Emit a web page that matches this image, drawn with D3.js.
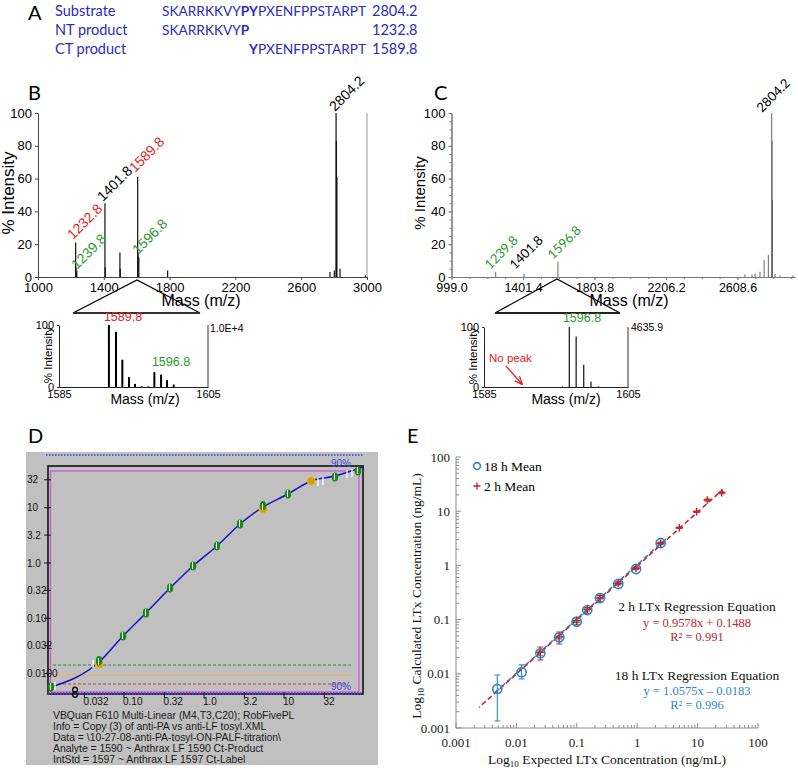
<!DOCTYPE html>
<html>
<head>
<meta charset="utf-8">
<script src="https://cdn.jsdelivr.net/npm/d3@7"></script>
<style>
  body { margin: 0; background: #fff; }
  svg { display: block; }
</style>
</head>
<body>
<svg id="fig" width="798" height="768"></svg>
<script>
'use strict';

/* ---- data ---- */

// A: peptide substrate and cleavage products
var seqNames = ['Substrate', 'NT product', 'CT product'];
var seqParts = [
  [['SKARRKKVY', false], ['PY', true], ['PXENFPPSTARPT', false]],
  [['SKARRKKVY', false], ['P', true]],
  [['Y', true], ['PXENFPPSTARPT', false]]
];
var seqMasses = ['2804.2', '1232.8', '1589.8'];

// B: full MALDI spectrum (mass, % intensity)
var bMass = [1229, 1231, 1236, 1407, 1409, 1498, 1500, 1606, 1608, 1613, 1788, 2775, 2801, 2812, 2814, 2817, 2836, 2990];
var bInt  = [21, 6, 4, 45, 6, 15, 5, 61, 15, 12, 4, 3, 4, 100, 83, 61, 5, 1];
var bLabelText = ['1232.8', '1239.8', '1401.8', '1589.8', '1596.8', '2804.2'];
var bLabelKind = ['nt', 'label', 'sub', 'ct', 'label', 'sub'];
var bLabelMass = [1213, 1237, 1395, 1590, 1608, 2805];
var bLabelInt  = [22.6, 4.3, 45.7, 63.4, 13.4, 100.6];
var bTicks = [1000, 1400, 1800, 2200, 2600, 3000];

// B inset: zoom 1585-1605
var biMass = [1591.7, 1592.65, 1593.5, 1594.4, 1595.2, 1596.1, 1597.0, 1597.8, 1598.7, 1599.5, 1600.4];
var biInt  = [100, 89, 44, 16, 5, 1, 1, 24, 20, 11, 4];

// C: control spectrum
var cMass = [1247.6, 1407, 1598, 2650, 2690, 2707, 2735, 2758, 2782, 2801, 2803, 2805, 2820, 2848, 2921];
var cInt  = [3, 2, 9.3, 1.5, 1.5, 2, 3.2, 10.4, 13.4, 100, 83, 47, 2, 1, 1];
var cLabelText = ['1239.8', '1401.8', '1596.8', '2804.2'];
var cLabelKind = ['label', 'sub', 'label', 'sub'];
var cLabelMass = [1216, 1356, 1570, 2746];
var cLabelInt  = [4.3, 4.3, 10.4, 100];
var cTicks = [999.0, 1401.4, 1803.8, 2206.2, 2608.6];

// C inset
var ciMass = [1595.9, 1596.85, 1597.8, 1598.85, 1599.86, 1600.9];
var ciInt  = [1, 100, 84, 37, 9, 1];

// D: VBQuan calibration (expected vs measured ratio)
var dXTicks = [0.032, 0.10, 0.32, 1.0, 3.2, 10, 32];
var dXLabels = ['0.032', '0.10', '0.32', '1.0', '3.2', '10', '32'];
var dYTicks = [32, 10, 3.2, 1.0, 0.32, 0.10, 0.032, 0.010];
var dYLabels = ['32', '10', '3.2', '1.0', '0.32', '0.10', '0.032', '0.0100'];
var dPtX = [0.0122, 0.0487, 0.0972, 0.188, 0.376, 0.729, 1.45, 2.82, 5.46, 11.2, 21.8, 43.4, 84.1];
var dPtY = [0.0057, 0.0162, 0.0479, 0.125, 0.353, 0.883, 2.03, 5.07, 10.3, 17.7, 30.4, 35.9, 46.1];
var dPtKind = ['g', 'go', 'g', 'g', 'g', 'g', 'g', 'g', 'go', 'g', 'o', 'g', 'g'];
var dRepX = [0.0137, 0.041, 26.6, 30.7, 61.3, 70.8];
var dRepY = [0.00597, 0.0149, 29.2, 30.4, 40.7, 42.4];
var dOutX = [0.0244];
var dOutY = [0.0046];
var dFitX = [0.0122, 0.0487, 0.0972, 0.188, 0.376, 0.729, 1.45, 2.82, 5.46, 11.2, 21.8, 43.4, 97];
var dFitY = [0.0057, 0.0162, 0.0479, 0.125, 0.353, 0.883, 2.03, 5.07, 10.3, 17.7, 30.4, 37.5, 54.5];
var dNotes = [
  'VBQuan F610 Multi-Linear (M4,T3,C20); RobFivePL',
  'Info = Copy (3) of anti-PA vs anti-LF tosyl.XML',
  'Data = \\10-27-08-anti-PA-tosyl-ON-PALF-titration\\',
  'Analyte = 1590 ~ Anthrax LF 1590 Ct-Product',
  'IntStd = 1597 ~ Anthrax LF 1597 Ct-Label'
];

// E: expected vs calculated LTx (ng/mL)
var eX18  = [0.00483, 0.0122, 0.0249, 0.0513, 0.0995, 0.149, 0.242, 0.486, 0.955, 2.45];
var eY18  = [0.00525, 0.0107, 0.0239, 0.0471, 0.0915, 0.150, 0.250, 0.454, 0.859, 2.59];
var eLo18 = [0.00135, 0.0080, 0.0215, 0.0440, 0.088, 0.145, 0.240, 0.440, 0.840, 2.50];
var eHi18 = [0.0095, 0.0146, 0.0265, 0.0500, 0.095, 0.155, 0.260, 0.470, 0.880, 2.70];
var eX2  = [0.0249, 0.0513, 0.0995, 0.149, 0.242, 0.486, 0.955, 2.45, 4.98, 9.66, 14.5, 25.1];
var eY2  = [0.0250, 0.0480, 0.0950, 0.155, 0.250, 0.470, 0.890, 2.55, 4.96, 9.79, 16.1, 21.9];
var eLo2 = [0.0180, 0.0354, 0.0800, 0.131, 0.210, 0.440, 0.850, 2.45, 4.80, 9.50, 15.5, 21.0];
var eHi2 = [0.0313, 0.0589, 0.1070, 0.167, 0.280, 0.500, 0.930, 2.65, 5.10, 10.1, 16.7, 22.8];
var eFit2X = [0.0024, 26];
var eFit2Y = [0.0024, 25];
var eFit18X = [0.0045, 3.0];
var eFit18Y = [0.0046, 3.1];
var eTicks = [0.001, 0.01, 0.1, 1, 10, 100];
var eTickLabels = ['0.001', '0.01', '0.1', '1', '10', '100'];

/* ---- drawing ---- */

var SANS = '"Liberation Sans", Arial, sans-serif';
var SERIF = '"Liberation Serif", "Times New Roman", serif';
var HUMAN = 'Lato, "Open Sans", sans-serif';
var BLUE_A = '#2b2bc2';
var RED = '#e2231a', GREEN = '#2c9a2c';
var kindColor = { nt: RED, ct: RED, label: GREEN, sub: '#000' };

var svg = d3.select('#fig');
svg.append('rect').attr('width', 798).attr('height', 768).attr('fill', '#fff');

function letter(x, y, t) {
  svg.append('text').attr('x', x).attr('y', y).text(t)
    .style('font-family', HUMAN).style('font-size', '20px').attr('fill', '#000');
}

function styleAxis(g, color, size) {
  g.select('.domain').attr('stroke', color);
  g.selectAll('.tick line').attr('stroke', color);
  g.selectAll('.tick text').attr('fill', '#000')
    .style('font-family', SANS).style('font-size', size + 'px');
}

function vLabel(x, y, t, size) {
  svg.append('text').attr('transform', 'translate(' + x + ',' + y + ') rotate(-90)')
    .attr('text-anchor', 'middle').text(t)
    .style('font-family', SANS).style('font-size', size + 'px');
}

function peaks(g, x, y, mass, inten, color, w) {
  g.selectAll(null).data(d3.range(mass.length)).enter().append('line')
    .attr('x1', function(i){ return x(mass[i]) }).attr('x2', function(i){ return x(mass[i]) })
    .attr('y1', y(0)).attr('y2', function(i){ return y(inten[i]) })
    .attr('stroke', color).attr('stroke-width', w);
}

function peakLabels(g, x, y, text, kind, mass, inten, size, font) {
  g.selectAll(null).data(d3.range(text.length)).enter().append('text')
    .attr('transform', function(i){
      return 'translate(' + x(mass[i]) + ',' + y(inten[i]) + ') rotate(-45)'
    })
    .text(function(i){ return text[i] })
    .attr('fill', function(i){ return kindColor[kind[i]] })
    .style('font-family', font).style('font-size', size + 'px');
}

// ---- A ----
letter(28, 20, 'A');
var rowY = d3.scalePoint().domain(seqNames).range([16, 54]);
var gA = svg.append('g').attr('fill', BLUE_A)
  .style('font-family', HUMAN).style('font-size', '14.5px');
gA.selectAll('.nm').data(seqNames).enter().append('text')
  .attr('x', 55).attr('y', function(d){ return rowY(d) }).text(function(d){ return d });
var seqText = gA.selectAll('.sq').data(seqParts).enter().append('text')
  .attr('x', 162).attr('y', function(d, i){ return rowY(seqNames[i]) })
  .style('font-size', '13.7px');
seqText.selectAll('tspan').data(function(d){ return d }).enter().append('tspan')
  .text(function(d){ return d[0] })
  .style('font-weight', function(d){ return d[1] ? 'bold' : 'normal' });
// line the CT product up under the second Y of the substrate
var subNode = seqText.nodes()[0];
var shift = subNode.getSubStringLength(0, 10);
d3.select(seqText.nodes()[2]).attr('x', 162 + shift);
gA.selectAll('.ms').data(seqMasses).enter().append('text')
  .attr('x', 372).attr('y', function(d, i){ return rowY(seqNames[i]) }).text(function(d){ return d });

// ---- B ----
letter(28, 100, 'B');
var bx = d3.scaleLinear().domain([1000, 3000]).range([38, 367]);
var by = d3.scaleLinear().domain([0, 100]).range([277, 113]);
var gB = svg.append('g');
gB.append('line').attr('x1', bx(3000)).attr('x2', bx(3000)).attr('y1', by(0)).attr('y2', by(100))
  .attr('stroke', '#999').attr('stroke-width', 1);
gB.append('g').attr('transform', 'translate(0,' + by(0) + ')')
  .call(d3.axisBottom(bx).tickValues(bTicks).tickSize(3).tickSizeOuter(0).tickFormat(d3.format('d')))
  .call(styleAxis, '#444', 13);
gB.append('g').attr('transform', 'translate(' + bx(1000) + ',0)')
  .call(d3.axisLeft(by).tickValues([0, 20, 40, 60, 80, 100]).tickSize(3).tickSizeOuter(0))
  .call(styleAxis, '#444', 13);
peaks(gB, bx, by, bMass, bInt, '#111', 1.2);
peakLabels(gB, bx, by, bLabelText, bLabelKind, bLabelMass, bLabelInt, 14, SANS);
vLabel(14, 193, '% Intensity', 17);
svg.append('text').attr('x', 201).attr('y', 306).attr('text-anchor', 'middle').text('Mass (m/z)')
  .style('font-family', SANS).style('font-size', '16px');

// zoom wedge
svg.append('path').attr('d', 'M73,313L137,280L200,313').attr('fill', 'none')
  .attr('stroke', '#000').attr('stroke-width', 1.3);
svg.append('line').attr('x1', 73).attr('x2', 200).attr('y1', 313).attr('y2', 313)
  .attr('stroke', '#333').attr('stroke-width', 1.8);

// B inset
var bix = d3.scaleLinear().domain([1585, 1605]).range([59, 208]);
var biy = d3.scaleLinear().domain([0, 100]).range([387, 325]);
var gBi = svg.append('g');
gBi.append('line').attr('x1', bix(1605)).attr('x2', bix(1605)).attr('y1', biy(0)).attr('y2', biy(100))
  .attr('stroke', '#333');
gBi.append('g').attr('transform', 'translate(0,' + biy(0) + ')')
  .call(d3.axisBottom(bix).tickValues([1585, 1605]).tickSize(0).tickFormat(d3.format('d')))
  .call(styleAxis, '#222', 11);
gBi.append('g').attr('transform', 'translate(' + bix(1585) + ',0)')
  .call(d3.axisLeft(biy).tickValues([0, 100]).tickSize(2).tickSizeOuter(0))
  .call(styleAxis, '#222', 11);
peaks(gBi, bix, biy, biMass, biInt, '#000', 2);
gBi.append('text').attr('x', 123).attr('y', 321).attr('text-anchor', 'middle').text('1589.8')
  .attr('fill', RED).style('font-family', SANS).style('font-size', '12.5px');
gBi.append('text').attr('x', 171).attr('y', 366).attr('text-anchor', 'middle').text('1596.8')
  .attr('fill', GREEN).style('font-family', SANS).style('font-size', '12.5px');
gBi.append('text').attr('x', 210).attr('y', 332).text('1.0E+4')
  .style('font-family', SANS).style('font-size', '10.5px');
vLabel(52, 355, '% Intensity', 11.5);
svg.append('text').attr('x', 145).attr('y', 404).attr('text-anchor', 'middle').text('Mass (m/z)')
  .style('font-family', SANS).style('font-size', '14px');

// ---- C ----
letter(434, 100, 'C');
var cx = d3.scaleLinear().domain([999, 2932]).range([451.5, 795]);
var cy = d3.scaleLinear().domain([0, 100]).range([277, 113]);
var gC = svg.append('g');
gC.append('g').attr('transform', 'translate(0,' + cy(0) + ')')
  .call(d3.axisBottom(cx).tickValues(d3.range(999, 2932, 100.6)).tickSize(2).tickSizeOuter(0).tickFormat(''))
  .call(styleAxis, '#777', 12);
gC.append('g').attr('transform', 'translate(0,' + cy(0) + ')')
  .call(d3.axisBottom(cx).tickValues(cTicks).tickSize(3).tickSizeOuter(0).tickFormat(d3.format('.1f')))
  .call(styleAxis, '#777', 12.5);
gC.append('g').attr('transform', 'translate(' + cx(999) + ',0)')
  .call(d3.axisLeft(cy).tickValues(d3.range(0, 101, 5)).tickSize(2).tickSizeOuter(0).tickFormat(''))
  .call(styleAxis, '#777', 12);
gC.append('g').attr('transform', 'translate(' + cx(999) + ',0)')
  .call(d3.axisLeft(cy).tickValues([0, 20, 40, 60, 80, 100]).tickSize(3).tickSizeOuter(0))
  .call(styleAxis, '#777', 13);
peaks(gC, cx, cy, cMass, cInt, '#666', 1);
peakLabels(gC, cx, cy, cLabelText, cLabelKind, cLabelMass, cLabelInt, 13, HUMAN);
vLabel(425, 193, '% Intensity', 15);
svg.append('text').attr('x', 629).attr('y', 306).attr('text-anchor', 'middle').text('Mass (m/z)')
  .style('font-family', SANS).style('font-size', '16px');

svg.append('path').attr('d', 'M495,313L557,279L620,313').attr('fill', 'none')
  .attr('stroke', '#000').attr('stroke-width', 1.3);
svg.append('line').attr('x1', 495).attr('x2', 620).attr('y1', 313).attr('y2', 313)
  .attr('stroke', '#222').attr('stroke-width', 2.2);

// C inset
var cix = d3.scaleLinear().domain([1585, 1605]).range([484, 628]);
var ciy = d3.scaleLinear().domain([0, 100]).range([387, 327]);
var gCi = svg.append('g');
gCi.append('line').attr('x1', cix(1605)).attr('x2', cix(1605)).attr('y1', ciy(0)).attr('y2', ciy(100))
  .attr('stroke', '#333');
gCi.append('g').attr('transform', 'translate(0,' + ciy(0) + ')')
  .call(d3.axisBottom(cix).tickValues([1585, 1605]).tickSize(0).tickFormat(d3.format('d')))
  .call(styleAxis, '#222', 11);
gCi.append('g').attr('transform', 'translate(' + cix(1585) + ',0)')
  .call(d3.axisLeft(ciy).tickValues([0, 100]).tickSize(2).tickSizeOuter(0))
  .call(styleAxis, '#222', 11);
peaks(gCi, cix, ciy, ciMass, ciInt, '#222', 1.3);
gCi.append('text').attr('x', 582).attr('y', 322).attr('text-anchor', 'middle').text('1596.8')
  .attr('fill', GREEN).style('font-family', SANS).style('font-size', '12.5px');
gCi.append('text').attr('x', 631).attr('y', 331).text('4635.9')
  .style('font-family', SANS).style('font-size', '10.5px');
gCi.append('text').attr('x', 489).attr('y', 362).text('No peak')
  .attr('fill', RED).style('font-family', SANS).style('font-size', '11.5px');
svg.append('defs').append('marker').attr('id', 'arr').attr('viewBox', '0 0 10 10')
  .attr('refX', 9).attr('refY', 5).attr('markerWidth', 7).attr('markerHeight', 7)
  .attr('orient', 'auto')
  .append('path').attr('d', 'M0,1L10,5L0,9').attr('fill', 'none').attr('stroke', RED).attr('stroke-width', 1.5);
gCi.append('line').attr('x1', 506).attr('y1', 366).attr('x2', 522).attr('y2', 384)
  .attr('stroke', RED).attr('stroke-width', 1.2).attr('marker-end', 'url(#arr)');
vLabel(477, 356, '% Intensity', 11.5);
svg.append('text').attr('x', 566).attr('y', 404).attr('text-anchor', 'middle').text('Mass (m/z)')
  .style('font-family', SANS).style('font-size', '14px');

// ---- D ----
letter(28, 443, 'D');
var dx = d3.scaleLog().domain([0.0112, 97.2]).range([48, 363]);
var dy = d3.scaleLog().domain([0.00428, 56.8]).range([694, 466]);
var gD = svg.append('g');
gD.append('rect').attr('x', 26).attr('y', 452).attr('width', 352).attr('height', 313).attr('fill', '#c0c0c0');
gD.append('line').attr('x1', 46).attr('x2', 363).attr('y1', 455).attr('y2', 455)
  .attr('stroke', '#3a3ad8').attr('stroke-width', 1.5).attr('stroke-dasharray', '1.5,1.5');
gD.append('rect').attr('x', 48).attr('y', 466).attr('width', 315).attr('height', 228)
  .attr('fill', 'none').attr('stroke', '#111').attr('stroke-width', 1.6);
gD.append('rect').attr('x', 50.5).attr('y', 471).attr('width', 308.5).attr('height', 221)
  .attr('fill', 'none').attr('stroke', '#d050d0').attr('stroke-width', 1.2);
gD.append('line').attr('x1', 48).attr('x2', 363).attr('y1', 693.5).attr('y2', 693.5)
  .attr('stroke', '#4b3fd8').attr('stroke-width', 2.5).attr('stroke-dasharray', '1.5,1.5');
// limit lines
gD.append('line').attr('x1', 53).attr('x2', 352).attr('y1', 665).attr('y2', 665)
  .attr('stroke', '#2c8c2c').attr('stroke-width', 1).attr('stroke-dasharray', '3,2');
gD.append('line').attr('x1', 53).attr('x2', 352).attr('y1', 675).attr('y2', 675)
  .attr('stroke', '#f0b050').attr('stroke-width', 1.2);
gD.append('line').attr('x1', 53).attr('x2', 347).attr('y1', 684).attr('y2', 684)
  .attr('stroke', '#e03030').attr('stroke-width', 1).attr('stroke-dasharray', '3,2');
gD.append('text').attr('x', 331).attr('y', 690).text('90%').attr('fill', '#4646e0')
  .style('font-family', SANS).style('font-size', '10px');
gD.append('text').attr('x', 331).attr('y', 467).text('90%').attr('fill', '#4646e0')
  .style('font-family', SANS).style('font-size', '10px');
// ticks
gD.selectAll('.yt').data(dYTicks).enter().append('line')
  .attr('x1', 44).attr('x2', 51).attr('y1', function(d){ return dy(d) }).attr('y2', function(d){ return dy(d) })
  .attr('stroke', '#111');
gD.selectAll('.yl').data(dYTicks).enter().append('text')
  .attr('x', 27).attr('y', function(d){ return dy(d) + 3.5 })
  .text(function(d, i){ return dYLabels[i] })
  .style('font-family', SANS).style('font-size', '10px').attr('fill', '#111');
gD.selectAll('.xt').data(dXTicks).enter().append('line')
  .attr('y1', 692).attr('y2', 698).attr('x1', function(d){ return dx(d) }).attr('x2', function(d){ return dx(d) })
  .attr('stroke', '#111');
gD.selectAll('.xl').data(dXTicks).enter().append('text')
  .attr('y', 705).attr('x', function(d){ return dx(d) - 1 })
  .text(function(d, i){ return dXLabels[i] })
  .style('font-family', SANS).style('font-size', '10px').attr('fill', '#111');
// fitted curve
var dLine = d3.line().curve(d3.curveMonotoneX)
  .x(function(i){ return dx(dFitX[i]) }).y(function(i){ return dy(dFitY[i]) });
gD.append('path').attr('d', dLine(d3.range(dFitX.length))).attr('fill', 'none')
  .attr('stroke', '#1212c8').attr('stroke-width', 1.5);
// replicate marks
gD.selectAll('.rp').data(d3.range(dRepX.length)).enter().append('line')
  .attr('x1', function(i){ return dx(dRepX[i]) }).attr('x2', function(i){ return dx(dRepX[i]) })
  .attr('y1', function(i){ return dy(dRepY[i]) - 4 }).attr('y2', function(i){ return dy(dRepY[i]) + 4 })
  .attr('stroke', '#fff').attr('stroke-width', 1.3);
// points
var dIdx = d3.range(dPtX.length);
gD.selectAll('.po').data(dIdx.filter(function(i){ return dPtKind[i].indexOf('o') >= 0 })).enter().append('circle')
  .attr('cx', function(i){ return dx(dPtX[i]) }).attr('cy', function(i){ return dy(dPtY[i]) + (dPtKind[i] === 'go' ? 2 : 0) })
  .attr('r', 3.6).attr('fill', '#c8a000').attr('stroke', '#f0a800').attr('stroke-width', 1.4);
gD.selectAll('.pg').data(dIdx.filter(function(i){ return dPtKind[i].indexOf('g') >= 0 })).enter().append('ellipse')
  .attr('cx', function(i){ return dx(dPtX[i]) }).attr('cy', function(i){ return dy(dPtY[i]) - (dPtKind[i] === 'go' ? 1.5 : 0) })
  .attr('rx', 3.2).attr('ry', 4.6).attr('fill', '#188818');
gD.selectAll('.pw').data(dIdx.filter(function(i){ return dPtKind[i].indexOf('g') >= 0 })).enter().append('line')
  .attr('x1', function(i){ return dx(dPtX[i]) - 0.5 }).attr('x2', function(i){ return dx(dPtX[i]) - 0.5 })
  .attr('y1', function(i){ return dy(dPtY[i]) - 4 }).attr('y2', function(i){ return dy(dPtY[i]) + 3 })
  .attr('stroke', '#fff').attr('stroke-width', 1);
// out-of-range point
dOutX.forEach(function(v, i){
  [-2.6, 2.6].forEach(function(off){
    gD.append('circle').attr('cx', dx(v)).attr('cy', dy(dOutY[i]) + off).attr('r', 2.4)
      .attr('fill', 'none').attr('stroke', '#111').attr('stroke-width', 1.4);
  });
});
gD.selectAll('.nt').data(dNotes).enter().append('text')
  .attr('x', 53).attr('y', function(d, i){ return 719 + i * 11 })
  .text(function(d){ return d })
  .style('font-family', SANS).style('font-size', '10.4px').attr('fill', '#1a1a1a');

// ---- E ----
letter(407, 443, 'E');
var ex = d3.scaleLog().domain([0.001, 100]).range([456, 758]);
var ey = d3.scaleLog().domain([0.001, 100]).range([728, 457]);
var gE = svg.append('g');
var AX = '#8c8c8c';
gE.append('line').attr('x1', ex(0.001)).attr('x2', ex(100)).attr('y1', ey(0.001)).attr('y2', ey(0.001)).attr('stroke', AX);
gE.append('line').attr('x1', ex(0.001)).attr('x2', ex(0.001)).attr('y1', ey(0.001)).attr('y2', ey(100)).attr('stroke', AX);
var minor = ex.ticks();
gE.selectAll('.mx').data(minor).enter().append('line')
  .attr('x1', function(d){ return ex(d) }).attr('x2', function(d){ return ex(d) })
  .attr('y1', ey(0.001)).attr('y2', function(d){ return ey(0.001) - (eTicks.indexOf(d) >= 0 ? 5 : 3) })
  .attr('stroke', AX);
gE.selectAll('.my').data(ey.ticks()).enter().append('line')
  .attr('y1', function(d){ return ey(d) }).attr('y2', function(d){ return ey(d) })
  .attr('x1', ex(0.001)).attr('x2', function(d){ return ex(0.001) + (eTicks.indexOf(d) >= 0 ? 5 : 3) })
  .attr('stroke', AX);
gE.selectAll('.lx').data(eTicks).enter().append('text')
  .attr('x', function(d){ return ex(d) }).attr('y', 747).attr('text-anchor', 'middle')
  .text(function(d, i){ return eTickLabels[i] })
  .style('font-family', SERIF).style('font-size', '13px').attr('fill', '#222');
gE.selectAll('.ly').data(eTicks).enter().append('text')
  .attr('x', 450).attr('y', function(d){ return ey(d) + 4.5 }).attr('text-anchor', 'end')
  .text(function(d, i){ return eTickLabels[i] })
  .style('font-family', SERIF).style('font-size', '13px').attr('fill', '#222');

function logLabel(g, rest) {
  g.append('tspan').text('Log');
  g.append('tspan').text('10').attr('dy', 3).style('font-size', '9px');
  g.append('tspan').text(' ' + rest).attr('dy', -3);
}
var xl = gE.append('text').attr('x', 607).attr('y', 764).attr('text-anchor', 'middle')
  .style('font-family', SERIF).style('font-size', '13.5px').attr('fill', '#111');
logLabel(xl, 'Expected LTx Concentration (ng/mL)');
var yl = gE.append('text').attr('transform', 'translate(421,596) rotate(-90)').attr('text-anchor', 'middle')
  .style('font-family', SERIF).style('font-size', '13.5px').attr('fill', '#111');
logLabel(yl, 'Calculated LTx Concentration (ng/mL)');

var E_BLUE = '#2f86c8', E_RED = '#c1272d';
var fitLine = function(xs, ys){
  return d3.line().x(function(i){ return ex(xs[i]) }).y(function(i){ return ey(ys[i]) })(d3.range(xs.length));
};
gE.append('path').attr('d', fitLine(eFit18X, eFit18Y)).attr('stroke', E_BLUE).attr('stroke-width', 1.6)
  .attr('stroke-dasharray', '5,3').attr('fill', 'none');
gE.append('path').attr('d', fitLine(eFit2X, eFit2Y)).attr('stroke', E_RED).attr('stroke-width', 1.6)
  .attr('stroke-dasharray', '5,3').attr('stroke-dashoffset', 4).attr('fill', 'none');

// error bars
function errBars(xs, lo, hi, color) {
  var idx = d3.range(xs.length);
  gE.selectAll(null).data(idx).enter().append('path')
    .attr('d', function(i){
      var x = ex(xs[i]), a = ey(lo[i]), b = ey(hi[i]);
      return 'M' + x + ',' + a + 'V' + b + 'M' + (x - 3) + ',' + a + 'H' + (x + 3) + 'M' + (x - 3) + ',' + b + 'H' + (x + 3);
    })
    .attr('stroke', color).attr('stroke-width', 1.1).attr('fill', 'none');
}
errBars(eX18, eLo18, eHi18, E_BLUE);
errBars(eX2, eLo2, eHi2, E_RED);
gE.selectAll('.c18').data(d3.range(eX18.length)).enter().append('circle')
  .attr('cx', function(i){ return ex(eX18[i]) }).attr('cy', function(i){ return ey(eY18[i]) })
  .attr('r', 4.6).attr('fill', 'none').attr('stroke', E_BLUE).attr('stroke-width', 1.6);
gE.selectAll('.p2').data(d3.range(eX2.length)).enter().append('path')
  .attr('d', function(i){
    var x = ex(eX2[i]), y = ey(eY2[i]);
    return 'M' + (x - 3.8) + ',' + y + 'H' + (x + 3.8) + 'M' + x + ',' + (y - 3.8) + 'V' + (y + 3.8);
  })
  .attr('stroke', E_RED).attr('stroke-width', 1.5);

// legend
gE.append('circle').attr('cx', 477).attr('cy', 466).attr('r', 3.4).attr('fill', 'none')
  .attr('stroke', E_BLUE).attr('stroke-width', 1.6);
gE.append('path').attr('d', 'M473.5,486H480.5M477,482.5V489.5').attr('stroke', E_RED).attr('stroke-width', 1.3);
gE.append('text').attr('x', 484).attr('y', 471).text('18 h Mean')
  .style('font-family', SERIF).style('font-size', '13.5px');
gE.append('text').attr('x', 484).attr('y', 491).text('2 h Mean')
  .style('font-family', SERIF).style('font-size', '13.5px');

// regression annotations
var eqs = [
  ['2 h LTx Regression Equation', 611, '#111', 13.5],
  ['y = 0.9578x + 0.1488', 627, E_RED, 12.5],
  ['R\u00b2 = 0.991', 641, E_RED, 12.5],
  ['18 h LTx Regression Equation', 680, '#111', 13.5],
  ['y = 1.0575x \u2013 0.0183', 695, E_BLUE, 12.5],
  ['R\u00b2 = 0.996', 709, E_BLUE, 12.5]
];
gE.selectAll('.eq').data(eqs).enter().append('text')
  .attr('x', 697).attr('y', function(d){ return d[1] }).attr('text-anchor', 'middle')
  .text(function(d){ return d[0] }).attr('fill', function(d){ return d[2] })
  .style('font-family', SERIF).style('font-size', function(d){ return d[3] + 'px' });
</script>
</body>
</html>
